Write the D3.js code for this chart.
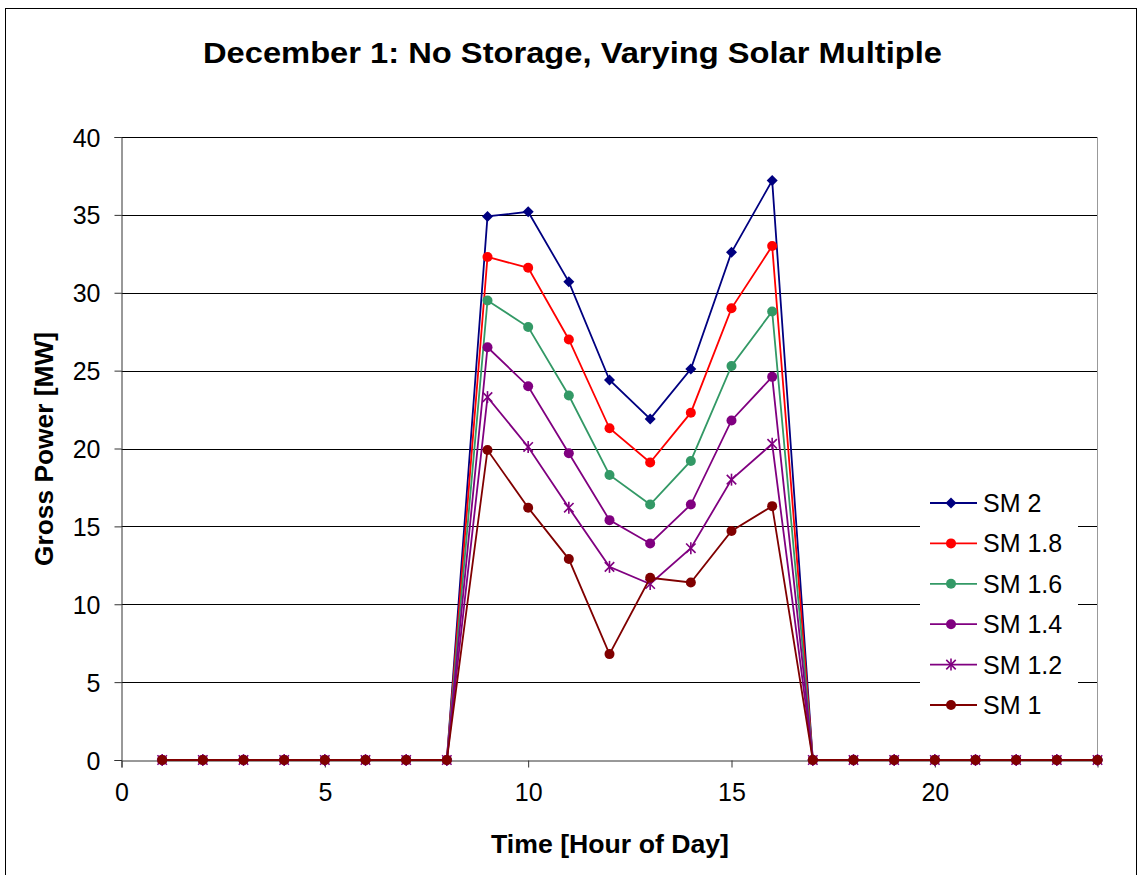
<!DOCTYPE html>
<html>
<head>
<meta charset="utf-8">
<script src="https://cdn.jsdelivr.net/npm/d3@7"></script>
<style>
  body { margin: 0; background: #fff; }
  text { font-family: "Liberation Sans", Arial, sans-serif; }
</style>
</head>
<body>
<svg id="chart" width="1138" height="875"></svg>
<script>
const hours = d3.range(1, 25);
const seriesNames = ['SM 2', 'SM 1.8', 'SM 1.6', 'SM 1.4', 'SM 1.2', 'SM 1'];
// values for hours 9..16, every other hour is zero
const dayHours = [9, 10, 11, 12, 13, 14, 15, 16];
const sm20 = [34.9, 35.2, 30.7, 24.4, 21.9, 25.1, 32.6, 37.2];
const sm18 = [32.3, 31.6, 27.0, 21.3, 19.1, 22.3, 29.0, 33.0];
const sm16 = [29.5, 27.8, 23.4, 18.3, 16.4, 19.2, 25.3, 28.8];
const sm14 = [26.5, 24.0, 19.7, 15.4, 13.9, 16.4, 21.8, 24.6];
const sm12 = [23.3, 20.1, 16.2, 12.4, 11.3, 13.6, 18.0, 20.3];
const sm10 = [19.9, 16.2, 12.9, 6.8, 11.7, 11.4, 14.7, 16.3];
const yTicks = [0, 5, 10, 15, 20, 25, 30, 35, 40];
const xTicks = [0, 5, 10, 15, 20];

const colors = ['#000080', '#ff0000', '#339966', '#800080', '#800080', '#800000'];
const symbols = ['diamond', 'circle', 'circle', 'circle', 'star', 'circle'];

function fullDay(vals) {
  return hours.map(h => {
    const i = dayHours.indexOf(h);
    return { h: h, v: i >= 0 ? vals[i] : 0 };
  });
}
const series = [sm20, sm18, sm16, sm14, sm12, sm10].map((vals, i) => ({
  name: seriesNames[i], color: colors[i], symbol: symbols[i], values: fullDay(vals)
}));

const svg = d3.select('#chart');
const plotLeft = 121.5, plotRight = 1097.5, plotTop = 137, plotBottom = 760;

const x = d3.scaleLinear().domain([0, 24]).range([plotLeft, plotRight]);
const y = d3.scaleLinear().domain([0, 40]).range([plotBottom, plotTop]);

// outer frame
svg.append('rect')
  .attr('x', 5.5).attr('y', 8.5)
  .attr('width', 1131).attr('height', 880)
  .attr('fill', '#fff').attr('stroke', '#000').attr('stroke-width', 1);

svg.append('text')
  .attr('x', 572.5).attr('y', 63)
  .attr('text-anchor', 'middle')
  .attr('textLength', 739).attr('lengthAdjust', 'spacingAndGlyphs')
  .style('font-size', '29px').style('font-weight', 'bold')
  .text('December 1: No Storage, Varying Solar Multiple');

// gridlines
svg.append('g').selectAll('line')
  .data(yTicks.filter(d => d > 0))
  .join('line')
  .attr('x1', plotLeft).attr('x2', plotRight)
  .attr('y1', d => Math.round(y(d)) + 0.5).attr('y2', d => Math.round(y(d)) + 0.5)
  .attr('stroke', '#000').attr('stroke-width', 1);

// right border of plot area
svg.append('line')
  .attr('x1', plotRight).attr('x2', plotRight).attr('y1', plotTop).attr('y2', plotBottom)
  .attr('stroke', '#999').attr('stroke-width', 1);

// axes
const yAxis = svg.append('g')
  .attr('transform', 'translate(' + plotLeft + ',0)')
  .call(d3.axisLeft(y).tickValues(yTicks).tickSize(7).tickPadding(14));
const xAxis = svg.append('g')
  .attr('transform', 'translate(0,' + (plotBottom + 0.5) + ')')
  .call(d3.axisBottom(x).tickValues(xTicks).tickSize(7).tickPadding(16));
[yAxis, xAxis].forEach(a => {
  a.selectAll('path').attr('stroke', '#333');
  a.selectAll('line').attr('stroke', '#333');
  a.selectAll('text')
    .style('font-size', '25px').style('font-family', '"Liberation Sans", Arial, sans-serif')
    .attr('fill', '#000');
});
yAxis.selectAll('text').attr('dy', '0.36em');

svg.append('text')
  .attr('transform', 'translate(53,449) rotate(-90)')
  .attr('text-anchor', 'middle')
  .attr('textLength', 234).attr('lengthAdjust', 'spacingAndGlyphs')
  .style('font-size', '25px').style('font-weight', 'bold')
  .text('Gross Power [MW]');
svg.append('text')
  .attr('x', 610).attr('y', 853)
  .attr('text-anchor', 'middle')
  .attr('textLength', 238).attr('lengthAdjust', 'spacingAndGlyphs')
  .style('font-size', '25px').style('font-weight', 'bold')
  .text('Time [Hour of Day]');

// legend background
svg.append('rect')
  .attr('x', 920).attr('y', 482).attr('width', 158).attr('height', 244)
  .attr('fill', '#fff');

const line = d3.line().x(d => x(d.h)).y(d => y(d.v));

function drawMarker(g, s) {
  if (s.symbol === 'star') {
    g.append('path')
      .attr('d', d3.symbol().type(d3.symbolTimes).size(60)())
      .attr('fill', 'none').attr('stroke', s.color).attr('stroke-width', 1.6);
    g.append('line').attr('x1', 0).attr('x2', 0).attr('y1', -6).attr('y2', 6)
      .attr('stroke', s.color).attr('stroke-width', 1.6);
  } else if (s.symbol === 'diamond') {
    g.append('path').attr('d', 'M0,-5.5L5.5,0L0,5.5L-5.5,0Z').attr('fill', s.color);
  } else {
    g.append('circle').attr('r', 5).attr('fill', s.color);
  }
}

const plot = svg.append('g');
series.forEach(s => {
  plot.append('path')
    .datum(s.values)
    .attr('d', line)
    .attr('fill', 'none').attr('stroke', s.color).attr('stroke-width', 1.8);
  plot.append('g').selectAll('g')
    .data(s.values)
    .join('g')
    .attr('transform', d => 'translate(' + x(d.h) + ',' + y(d.v) + ')')
    .each(function() { drawMarker(d3.select(this), s); });
});

// legend
const legend = svg.append('g');
series.forEach((s, i) => {
  const ly = 503 + i * 40.4;
  const g = legend.append('g').attr('transform', 'translate(0,' + ly + ')');
  g.append('line').attr('x1', 930).attr('x2', 977).attr('y1', 0).attr('y2', 0)
    .attr('stroke', s.color).attr('stroke-width', 1.8);
  const m = g.append('g').attr('transform', 'translate(951,0)');
  drawMarker(m, s);
  g.append('text').attr('x', 983).attr('y', 0).attr('dy', '0.36em')
    .style('font-size', '25px').text(s.name);
});
</script>
</body>
</html>
